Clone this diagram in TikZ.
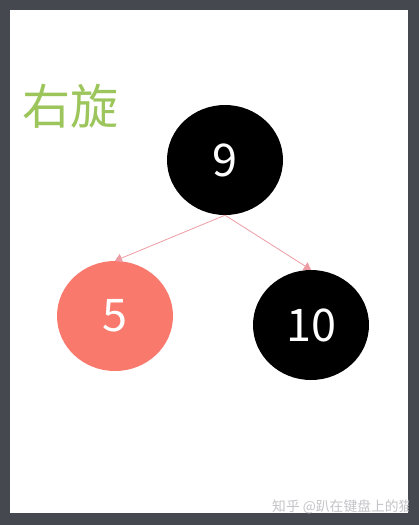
\documentclass[tikz,border=0pt]{standalone}
\usepackage{fontspec}
\setmainfont{Noto Sans CJK SC}
\usetikzlibrary{shapes.geometric,arrows.meta}
\definecolor{frame}{HTML}{46484F}
\definecolor{titlegreen}{HTML}{9CC65B}
\definecolor{salmon}{HTML}{F97A6D}
\definecolor{edgepink}{HTML}{EE9CA4}
\definecolor{wmgray}{HTML}{C4C4C8}
\tikzset{
  rbnode/.style={ellipse,minimum width=116pt,minimum height=110pt,inner sep=0pt,text=white,font=\fontsize{45}{45}\selectfont},
  blacknode/.style={rbnode,fill=black},
  rednode/.style={rbnode,fill=salmon},
  treeedge/.style={draw=edgepink,line width=0.8pt,-{Triangle[length=7pt,width=9pt]}}
}
\begin{document}
\begin{tikzpicture}[x=1pt,y=-1pt]
\fill[frame] (0,0) rectangle (419,525);
\fill[white] (10,10) rectangle (408,513);
\useasboundingbox (0,0) rectangle (419,525);
\node[anchor=west,text=titlegreen,font=\fontsize{48}{48}\selectfont,inner sep=0pt] (title) at (22,106) {右旋};
\node[blacknode] (n9) at (225,160) {9};
\node[rednode] (n5) at (115,316) {5};
\node[blacknode] (n10) at (311,325) {10};
\draw[treeedge] (n9.south) -- (n5.north);
\draw[treeedge] (n9.south) -- (n10.north);
\begin{scope}
\clip (10,10) rectangle (408,513);
\node[anchor=base west,text=wmgray,font=\fontsize{13.8}{13.8}\selectfont,inner sep=0pt] (wm) at (272,511) {知乎 @趴在键盘上的猫};
\end{scope}
\end{tikzpicture}
\end{document}
